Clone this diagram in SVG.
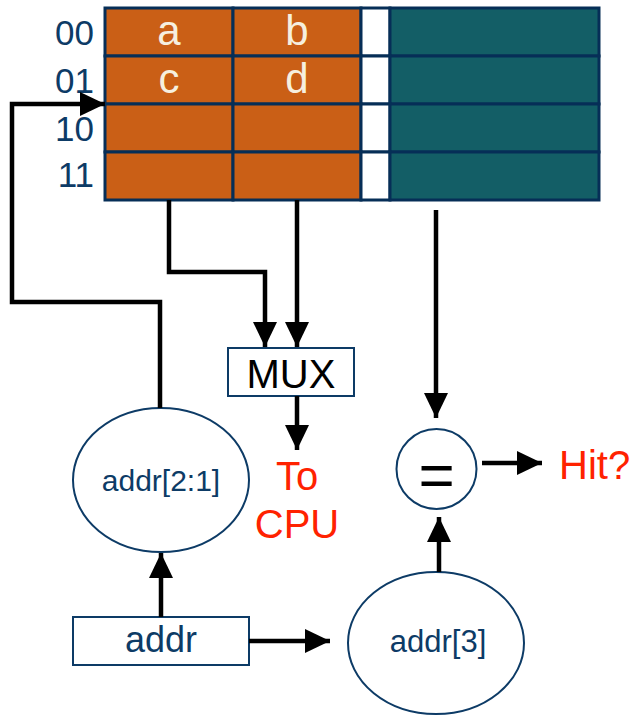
<svg xmlns="http://www.w3.org/2000/svg" width="635" height="716" viewBox="0 0 635 716">
<style>
.lbl{font-family:"Liberation Sans",Arial,sans-serif;fill:#0d3b66;}
.cell{stroke:#062e57;stroke-width:3;}
.data{fill:#ca5f16;}
.tag{fill:#135e66;}
.letter{font-family:"Liberation Sans",Arial,sans-serif;font-size:42px;fill:#f6efdf;text-anchor:middle;}
.red{font-family:"Liberation Sans",Arial,sans-serif;font-size:40px;fill:#ff2200;}
.shape{fill:#fff;stroke:#0d3b66;stroke-width:2;}
.wire{fill:none;stroke:#000;stroke-width:4.5;}
</style>
<defs>
<marker id="ah" viewBox="0 0 25 24" refX="25" refY="12" markerWidth="25" markerHeight="24" markerUnits="userSpaceOnUse" orient="auto">
<path d="M0,0 L25,12 L0,24 Z" fill="#000"/>
</marker>
</defs>
<g id="cache">
<rect class="cell data" x="105" y="8" width="128" height="48"/>
<rect class="cell data" x="233" y="8" width="128" height="48"/>
<rect class="cell" fill="#fff" x="361" y="8" width="29" height="48"/>
<rect class="cell tag" x="390" y="8" width="209" height="48"/>
<rect class="cell data" x="105" y="56" width="128" height="48"/>
<rect class="cell data" x="233" y="56" width="128" height="48"/>
<rect class="cell" fill="#fff" x="361" y="56" width="29" height="48"/>
<rect class="cell tag" x="390" y="56" width="209" height="48"/>
<rect class="cell data" x="105" y="104" width="128" height="48"/>
<rect class="cell data" x="233" y="104" width="128" height="48"/>
<rect class="cell" fill="#fff" x="361" y="104" width="29" height="48"/>
<rect class="cell tag" x="390" y="104" width="209" height="48"/>
<rect class="cell data" x="105" y="152" width="128" height="48"/>
<rect class="cell data" x="233" y="152" width="128" height="48"/>
<rect class="cell" fill="#fff" x="361" y="152" width="29" height="48"/>
<rect class="cell tag" x="390" y="152" width="209" height="48"/>
<text class="letter" x="169" y="45">a</text>
<text class="letter" x="297" y="45">b</text>
<text class="letter" x="169" y="93">c</text>
<text class="letter" x="297" y="93">d</text>
<text class="lbl" x="94" y="45" font-size="35" text-anchor="end">00</text>
<text class="lbl" x="94" y="93" font-size="35" text-anchor="end">01</text>
<text class="lbl" x="94" y="141" font-size="35" text-anchor="end">10</text>
<text class="lbl" x="94" y="187" font-size="35" text-anchor="end">11</text>
</g>
<g id="mux">
<rect class="shape" x="228" y="348" width="126" height="48"/>
<text x="291" y="388" font-family="Liberation Sans,Arial,sans-serif" font-size="40" text-anchor="middle" fill="#000">MUX</text>
</g>
<g id="tocpu">
<text class="red" x="297" y="490" text-anchor="middle">To</text>
<text class="red" x="297" y="538" text-anchor="middle">CPU</text>
</g>
<g id="addr21">
<ellipse class="shape" cx="161" cy="480" rx="88" ry="72"/>
<text class="lbl" x="161" y="491" font-size="30" text-anchor="middle">addr[2:1]</text>
</g>
<g id="addr">
<rect class="shape" x="73" y="617" width="176" height="48"/>
<text class="lbl" x="161" y="652" font-size="36" text-anchor="middle">addr</text>
</g>
<g id="addr3">
<ellipse class="shape" cx="436" cy="643" rx="88" ry="71"/>
<text class="lbl" x="438" y="652" font-size="31" text-anchor="middle">addr[3]</text>
</g>
<g id="compare">
<circle class="shape" cx="436.5" cy="469" r="40"/>
<text x="436.5" y="496" font-family="Liberation Sans,Arial,sans-serif" font-size="62" text-anchor="middle" fill="#000">=</text>
</g>
<g id="hit">
<text class="red" x="559" y="479">Hit?</text>
</g>
<g id="connectors">
<path class="wire" d="M160,408 L160,302 L12,302 L12,104 L105,104" marker-end="url(#ah)"/>
<path class="wire" d="M169,200 L169,272 L265,272 L265,347" marker-end="url(#ah)"/>
<path class="wire" d="M297,200 L297,347" marker-end="url(#ah)"/>
<path class="wire" d="M297,396 L297,450" marker-end="url(#ah)"/>
<path class="wire" d="M161,617 L161,553" marker-end="url(#ah)"/>
<path class="wire" d="M249,641 L330,641" marker-end="url(#ah)"/>
<path class="wire" d="M436,210 L436,418" marker-end="url(#ah)"/>
<path class="wire" d="M439,572 L439,517" marker-end="url(#ah)"/>
<path class="wire" d="M482,463 L542,463" marker-end="url(#ah)"/>
</g>
</svg>
